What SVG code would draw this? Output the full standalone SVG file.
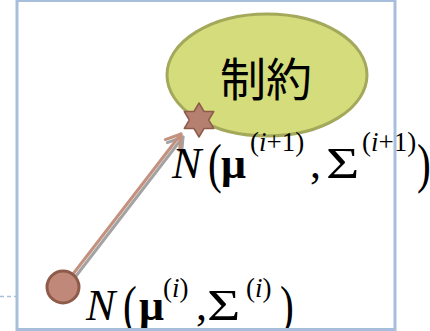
<svg xmlns="http://www.w3.org/2000/svg" width="430" height="331" viewBox="0 0 430 331">
<style>
.m{font-family:"Liberation Serif","DejaVu Serif",serif;fill:#000}
.it{font-style:italic}
.b{font-weight:bold}
.big{font-size:44px}
.par{font-size:46px}
.sup{font-size:27px}
.arrow{fill:none;stroke:#c4917f;stroke-width:3;stroke-linecap:round}
.shadow{fill:none;stroke:#a3a3a3;stroke-width:3;stroke-linecap:round}
</style>
<defs>
<marker id="ah" markerUnits="userSpaceOnUse" markerWidth="30" markerHeight="30" refX="0" refY="0" viewBox="-20 -15 30 30" orient="auto" overflow="visible">
<path d="M-14,-9 L0,0 L-14,9" fill="none" stroke="#c4917f" stroke-width="3" stroke-linecap="round" stroke-linejoin="round"/>
</marker>
<marker id="ahs" markerUnits="userSpaceOnUse" markerWidth="30" markerHeight="30" refX="0" refY="0" viewBox="-20 -15 30 30" orient="auto" overflow="visible">
<path d="M-14,-9 L0,0 L-14,9" fill="none" stroke="#a3a3a3" stroke-width="3" stroke-linecap="round" stroke-linejoin="round"/>
</marker>
</defs>
<rect x="0" y="0" width="430" height="331" fill="#ffffff"/>
<line x1="0" y1="296.5" x2="16" y2="296.5" stroke="#a7bfdc" stroke-width="1.5" stroke-dasharray="4,3"/>
<g id="constraint">
<ellipse cx="267" cy="75" rx="100" ry="61" fill="#d4dc7c" stroke="#a3a85a" stroke-width="3"/>
<text x="266" y="96" text-anchor="middle" font-family="'Noto Sans CJK JP','Noto Sans CJK SC',sans-serif" font-size="46" fill="#000">制約</text>
</g>
<g id="connectors">
<line class="shadow" x1="66" y1="289" x2="183" y2="137" marker-end="url(#ahs)"/>
<line class="arrow" x1="63" y1="287" x2="181" y2="134" marker-end="url(#ah)"/>
</g>
<g id="start">
<circle cx="63" cy="287" r="16" fill="#c08878" stroke="#8e5b4b" stroke-width="3"/>
</g>
<g id="target">
<polygon points="199,103 204,111.5 213.7,111.5 208.7,120 213.7,128.5 204,128.5 199,137 194,128.5 184.3,128.5 189.3,120 184.3,111.5 194,111.5" fill="#b5806f" stroke="#8e5b4b" stroke-width="1.5" stroke-linejoin="round"/>
</g>
<g id="label-next">
<text class="m big it" x="172" y="178">N</text>
<text class="m par" transform="translate(208,182) scale(0.9,1.2)">(</text>
<text class="m big b" x="221" y="178">μ</text>
<text class="m sup" x="250" y="151">(<tspan class="it">i</tspan>+1)</text>
<text class="m big" x="310" y="178">,</text>
<text class="m big" transform="translate(326,178) scale(1.3,1)">Σ</text>
<text class="m sup" x="362" y="151">(<tspan class="it">i</tspan>+1)</text>
<text class="m par" transform="translate(417,182) scale(0.9,1.2)">)</text>
</g>
<g id="label-current">
<text class="m big it" x="86" y="320">N</text>
<text class="m par" transform="translate(123,324) scale(0.9,1.2)">(</text>
<text class="m big b" x="139" y="320">μ</text>
<text class="m sup" x="163" y="297">(<tspan class="it">i</tspan>)</text>
<text class="m big" x="196" y="320">,</text>
<text class="m big" transform="translate(207,320) scale(1.3,1)">Σ</text>
<text class="m sup" x="246" y="297">(<tspan class="it">i</tspan>)</text>
<text class="m par" transform="translate(280,324) scale(0.9,1.2)">)</text>
</g>
<rect x="17" y="0.5" width="378" height="329" fill="none" stroke="#a7bfdc" stroke-width="3"/>
</svg>
